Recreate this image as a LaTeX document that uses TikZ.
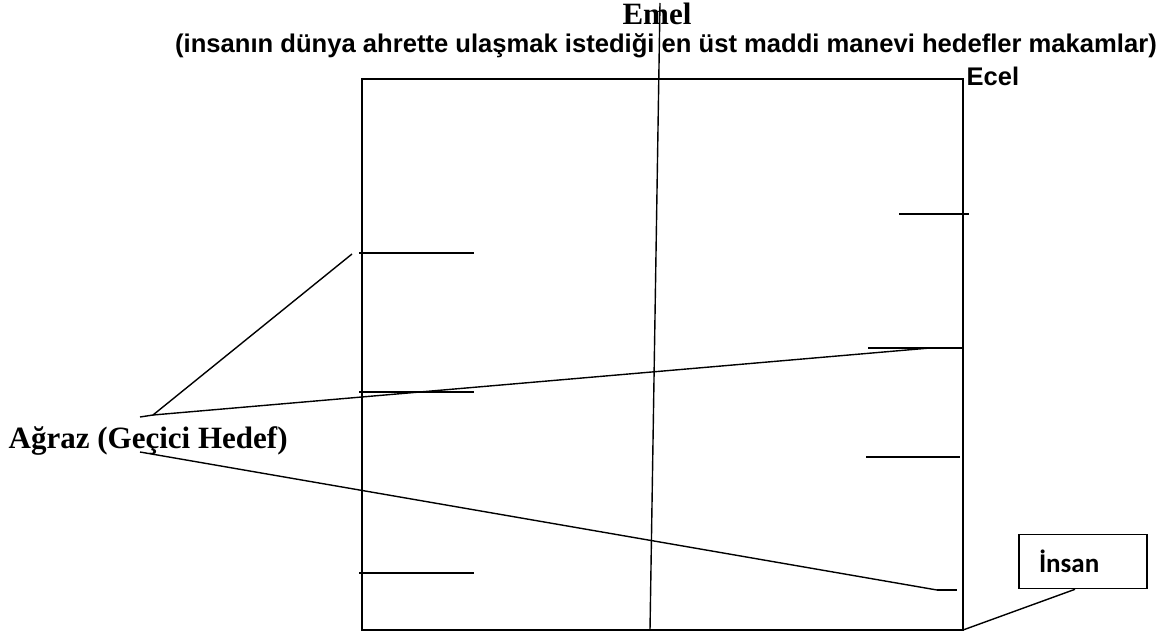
\documentclass[tikz,border=0pt]{standalone}
\usepackage{fontspec}
\setmainfont{Liberation Serif}
\newfontfamily\arialfont{Liberation Sans}
\newfontfamily\calfont{Carlito}
\usetikzlibrary{positioning}

\begin{document}
\begin{tikzpicture}[x=1pt,y=-1pt,line width=1.4pt]
  \tikzset{
    baslik/.style={font=\fontsize{31}{33}\selectfont\bfseries,inner sep=0pt},
    aciklama/.style={font=\arialfont\fontsize{25.6}{28}\selectfont\bfseries,inner sep=0pt},
    ecelyazi/.style={font=\arialfont\fontsize{25.5}{28}\selectfont\bfseries,inner sep=0pt},
    kutu/.style={draw,line width=1.6pt,minimum height=54pt,inner xsep=20pt,
      text width=88pt,align=left,font=\calfont\fontsize{27}{30}\selectfont\bfseries},
    cizik/.style={line width=1.4pt}
  }
  \useasboundingbox (0,0) rectangle (1173,637);
  % ana kutu
  \draw[line width=1.6pt] (362,79) rectangle (963,630);
  \coordinate (kose) at (963,630);
  % orta cizgi
  \coordinate (ust) at (660,3);
  \coordinate (alt) at (650,630);
  \draw (ust) -- (alt);
  % sol ve sag cizikler
  \foreach \y in {253,392,573}
    \draw[cizik] (359,\y) -- (474,\y);
  \draw[cizik] (899,214) -- (969,214);
  \draw[cizik] (868,348) -- (963,348);
  \draw[cizik] (866,457) -- (960,457);
  \draw[cizik] (937,590) -- (957,590);
  % yazilar
  \node[baslik] (emel) at (657,14) {Emel};
  \node[aciklama] (acik) at (666,46) {(insanın dünya ahrette ulaşmak istediği en üst maddi manevi hedefler makamlar)};
  \node[ecelyazi,anchor=west] (ecel) at (966,76) {Ecel};
  \node[baslik,anchor=west] (agraz) at (8,441) {Ağraz (Geçici Hedef)};
  \node[kutu] (insan) at (1083,561.5) {İnsan};
  % baglantilar
  \coordinate (a0) at (140,417);
  \coordinate (a1) at (153,415);
  \coordinate (h1) at (352,254);
  \coordinate (h2) at (930,348);
  \coordinate (b0) at (140,452);
  \coordinate (h3) at (937,590);
  \draw (a0) -- (a1) -- (h1);
  \draw (a1) -- (h2);
  \draw (b0) -- (h3);
  \draw (insan.south) ++(-8,0) coordinate (i0) -- (kose);
\end{tikzpicture}
\end{document}
